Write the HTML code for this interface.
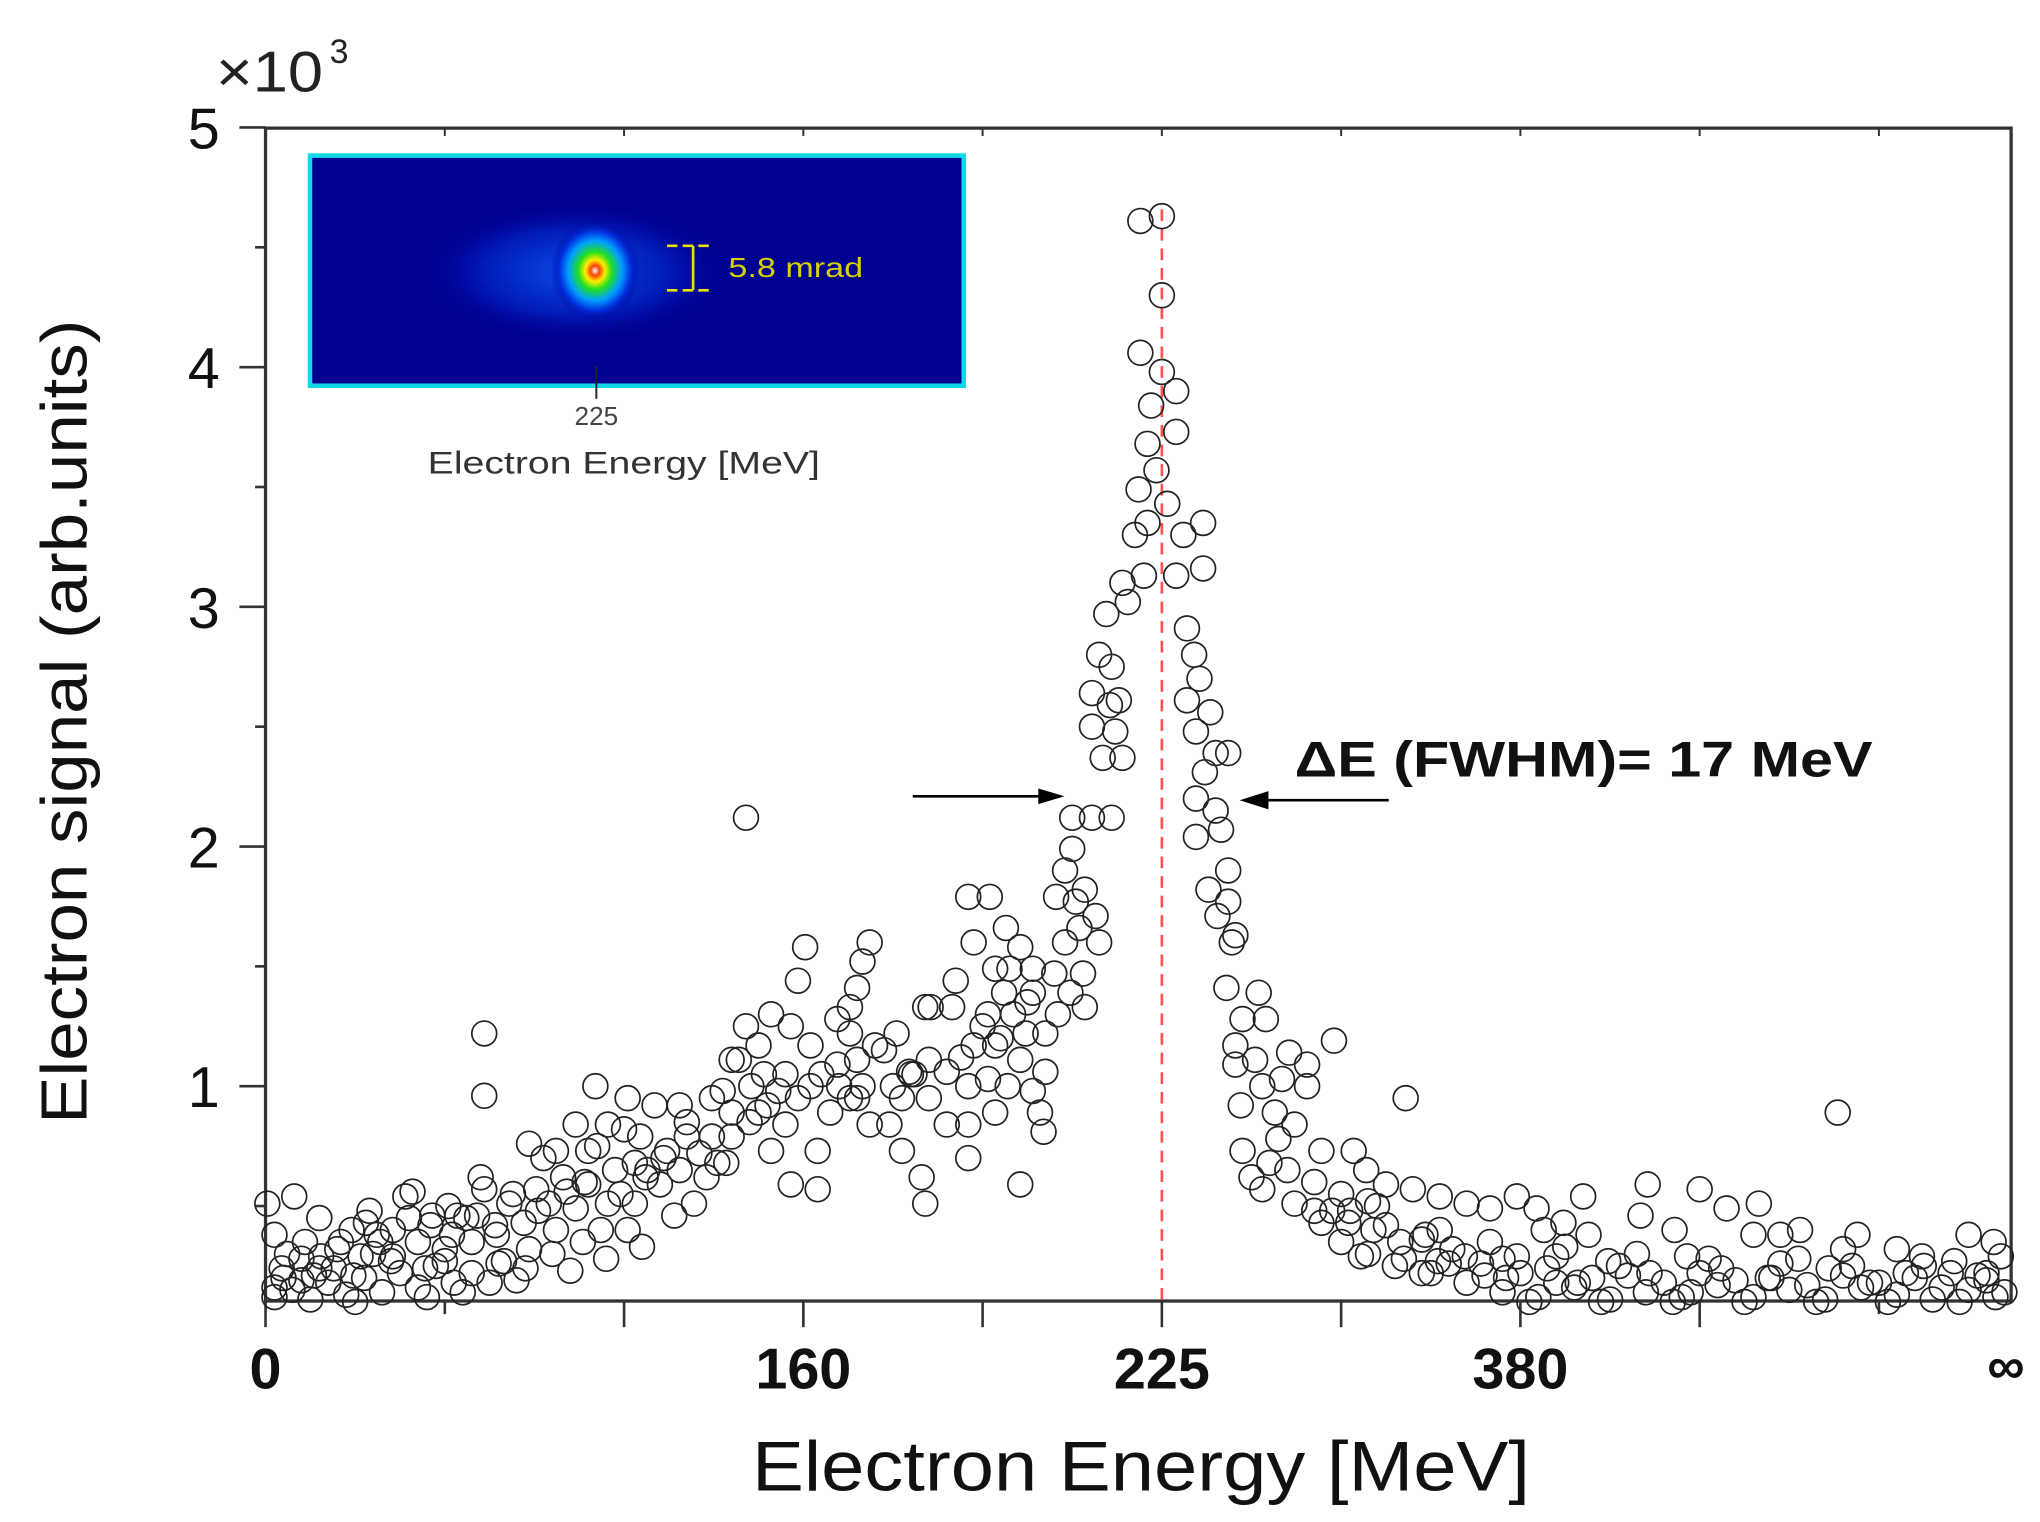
<!DOCTYPE html>
<html><head><meta charset="utf-8">
<style>html,body{margin:0;padding:0;background:#fff}svg{display:block}</style>
</head><body>
<svg id="chart" width="2040" height="1522" viewBox="0 0 1560 1164" xmlns="http://www.w3.org/2000/svg" font-family="'Liberation Sans', sans-serif">
<defs>
<radialGradient id="blob" cx="50%" cy="50%" r="50%">
<stop offset="0" stop-color="#ffffff"/><stop offset="0.1" stop-color="#ff4000"/><stop offset="0.22" stop-color="#ffee00"/><stop offset="0.38" stop-color="#20e020"/><stop offset="0.6" stop-color="#00a0ff"/><stop offset="0.8" stop-color="#0030e0"/><stop offset="1" stop-color="#00008f" stop-opacity="0"/>
</radialGradient>
<radialGradient id="halo" cx="50%" cy="50%" r="50%">
<stop offset="0" stop-color="#1060ff"/><stop offset="0.6" stop-color="#0020c0"/><stop offset="1" stop-color="#000090" stop-opacity="0"/>
</radialGradient>
</defs>
<g id="axes"></g>
<g id="marks"></g>
<g id="inset">
<rect x="237" y="119" width="500" height="176" fill="#000090" stroke="#10d8e8" stroke-width="3.5"/>
<ellipse cx="440" cy="208" rx="120" ry="55" fill="url(#halo)" opacity="0.8"/>
<ellipse cx="455" cy="207" rx="34" ry="38" fill="url(#blob)"/>
<g stroke="#e8e000" stroke-width="2" fill="none">
<line x1="530" y1="188" x2="530" y2="222"/><line x1="510" y1="188" x2="545" y2="188" stroke-dasharray="8 4"/><line x1="510" y1="222" x2="545" y2="222" stroke-dasharray="8 4"/>
</g>
<text x="557" y="212" font-size="21" fill="#d8d000" textLength="103" lengthAdjust="spacingAndGlyphs">5.8 mrad</text>
<line x1="456" y1="280" x2="456" y2="305" stroke="#222" stroke-width="1.5"/>
<text x="456" y="325" font-size="20" fill="#444" text-anchor="middle">225</text>
<text x="327" y="362" font-size="24" fill="#333" textLength="300" lengthAdjust="spacingAndGlyphs">Electron Energy [MeV]</text>
</g>
<g id="annot">
<line x1="698" y1="609" x2="800" y2="609" stroke="#000" stroke-width="2"/>
<polygon points="814,609 794,603 794,615" fill="#000"/>
<line x1="1062" y1="612" x2="962" y2="612" stroke="#000" stroke-width="2"/>
<polygon points="948,612 970,605 970,619" fill="#000"/>
<text x="990" y="594" font-size="38" font-weight="bold" fill="#111" textLength="442" lengthAdjust="spacingAndGlyphs">ΔE (FWHM)= 17 MeV</text>
</g>
</svg>
<script>
// Energy axis is nonlinear: data x stored in axis-tick units (0..9.74), signal in ×10^3 arb. units
const xTickPos = [0,1,2,3,4,5,6,7,8,9];
const xTickLabels = ["0","","","160","","225","","380","",""];
const yTicks = [1,2,3,4,5];
const yTickLabels = ["1","2","3","4","5"];
const peakX = 5.0;
const peakXs = [4.88,5.00,5.0,4.88,5.0,5.08,4.94,5.08,4.92,4.97,4.87,5.03,4.92,5.12,4.85,5.08,4.9,4.78,4.81,4.69,5.23,5.23];
const peakYs = [4.61,4.63,4.30,4.06,3.98,3.90,3.84,3.73,3.68,3.57,3.49,3.43,3.35,3.30,3.30,3.13,3.13,3.10,3.02,2.97,3.35,3.16];
const rightXs = [5.14,5.18,5.21,5.14,5.27,5.19,5.30,5.24,5.37,5.19,5.30,5.33,5.19,5.37,5.26,5.37,5.31,5.41,5.39,5.36,5.54,5.45,5.58,5.41,5.52,5.71,5.41,5.44,5.56,5.67,5.81,5.96,5.81,5.63,5.74,5.45,5.6,5.7,5.89,6.07,6.14,6.25,6.36,6.4,6.55,6.7,5.56,5.74,5.89,6.04,6.18,6.11,6.33,6.47,6.54,6.69,6.83,6.83,6.98,7.09,7.13,6.98,7.2,7.35,7.24,7.38,7.49,7.71,7.67,7.86,7.93,8.0,8.15,8.33,8.3,8.45,8.56,8.77,8.8,8.88,9.1,9.24,9.5,9.64,9.68,9.42,5.5,5.65,5.85,6.0,5.95,6.2];
const rightYs = [2.91,2.80,2.70,2.61,2.56,2.48,2.39,2.31,2.39,2.20,2.15,2.07,2.04,1.90,1.82,1.77,1.71,1.63,1.60,1.41,1.39,1.28,1.28,1.17,1.11,1.14,1.09,0.92,1.00,1.03,1.00,1.19,1.09,0.89,0.84,0.73,0.68,0.65,0.73,0.73,0.65,0.59,0.95,0.57,0.54,0.51,0.57,0.51,0.43,0.43,0.40,0.29,0.35,0.38,0.27,0.29,0.49,0.35,0.54,0.49,0.40,0.29,0.29,0.54,0.43,0.38,0.27,0.59,0.46,0.40,0.29,0.57,0.49,0.51,0.38,0.38,0.40,0.89,0.32,0.38,0.32,0.29,0.38,0.35,0.29,0.27,0.62,0.78,0.60,0.55,0.48,0.50];
const leftXs = [4.72,4.65,4.61,4.71,4.76,4.61,4.74,4.67,4.78,4.72,4.61,4.5,4.5,4.46,4.41,4.57,4.52,4.63,4.54,4.65,4.46,4.56,4.49,4.57,4.4,4.28,4.35,4.42,4.24,4.13,4.21,4.28,4.15,4.07,4.12,4.03,4.17,3.95,4.07,4.21,4.35,4.28,4.32,4.34,4.21,4.14,4.03,3.92,4.07,3.92,3.92,3.8,3.7,3.8,3.7,3.59,3.71,3.85,3.83,3.92,4.04,3.95,3.68,3.55,3.48,3.55,3.66,3.68,3.52,3.4,3.33,3.37,3.26,3.19,3.15,3.30,3.26,3.37,3.33,3.30,3.26,3.19,3.04,3.04,2.97,3.01,2.97,2.93,2.82,2.75,2.71,2.86,2.9,3.08,3.08,2.93,2.82,2.68,2.68,2.64,2.75,2.60,2.60,2.49,2.49,2.57,2.46,2.39,2.31,2.35,2.31,2.24,2.20,2.28,2.17,2.09,2.13,2.06,2.02,1.95,1.91,1.87,1.84,2.02,2.06,1.80,1.73,1.77,1.66,1.58,1.62,1.51,1.44,1.47,1.36,1.29,1.33,1.22,1.22,1.22,1.18,1.15,1.07,1.04,1.00,0.93,0.85,0.89,0.78,0.71,0.71,0.64,0.56,0.53,0.49,0.42,0.38,0.31,0.27,0.16,0.05,0.01,0.09,0.20,0.05,1.47,1.62,1.8,1.91,1.73,2.6,3.45,3.6,3.2,2.9];
const leftYs = [2.75,2.80,2.64,2.59,2.61,2.50,2.48,2.37,2.37,2.12,2.12,2.12,1.99,1.90,1.79,1.82,1.77,1.71,1.66,1.60,1.60,1.47,1.39,1.33,1.47,1.39,1.22,1.30,1.22,1.66,1.58,1.49,1.49,1.49,1.39,1.30,1.30,1.17,1.17,1.11,1.06,0.98,0.89,0.81,0.59,1.00,1.03,1.00,0.89,0.84,0.70,0.84,0.95,1.06,1.11,1.06,1.33,1.44,1.33,1.79,1.79,1.60,1.33,0.95,0.84,0.73,0.62,0.51,1.22,1.17,1.00,0.84,0.95,1.09,0.89,1.11,1.22,1.60,1.52,1.41,1.33,1.28,1.17,1.00,0.95,1.58,1.44,1.25,1.30,1.17,1.00,0.98,0.84,0.73,0.57,0.59,0.73,2.12,1.25,1.11,0.89,0.89,0.79,0.95,0.79,0.68,0.62,0.51,0.65,0.79,0.92,0.73,0.59,0.46,0.92,0.79,0.65,0.51,0.40,0.65,0.51,0.40,1.00,0.95,0.68,0.59,0.49,0.35,0.62,0.51,0.40,0.57,0.43,0.32,0.51,0.38,0.27,1.22,0.96,0.57,0.46,0.35,0.46,0.38,0.27,0.46,0.35,0.24,0.54,0.40,0.29,0.35,0.43,0.29,0.21,0.35,0.24,0.29,0.21,0.54,0.38,0.51,0.24,0.19,0.16,0.76,0.73,0.73,0.84,0.84,1.11,1.15,1.05,1.0,1.05];
const floorXs = [0.05,0.15,0.25,0.35,0.45,0.55,0.65,0.75,0.85,0.95,1.05,1.15,1.3,1.45,1.6,0.1,0.3,0.5,0.7,0.9,1.1,1.25,1.4,1.7,0.2,0.6,1.0,1.9,2.1,6.5,6.7,6.9,7.1,7.3,7.5,7.7,7.9,8.1,8.3,8.5,8.7,8.9,9.1,9.3,9.5,9.65,6.6,6.8,7.0,7.2,7.4,7.6,7.8,8.0,8.2,8.4,8.6,8.8,9.0,9.2,9.4,9.6,7.05,7.45,7.85,8.25,8.65,9.05,9.45,6.35];
const floorYs = [0.12,0.15,0.11,0.18,0.13,0.20,0.14,0.22,0.16,0.25,0.18,0.22,0.26,0.24,0.30,0.20,0.24,0.10,0.27,0.12,0.14,0.18,0.19,0.23,0.28,0.30,0.32,0.28,0.33,0.22,0.18,0.14,0.12,0.16,0.11,0.14,0.12,0.17,0.12,0.15,0.11,0.16,0.13,0.11,0.15,0.12,0.26,0.21,0.22,0.18,0.20,0.21,0.18,0.22,0.19,0.20,0.17,0.21,0.18,0.20,0.22,0.19,0.10,0.10,0.10,0.10,0.10,0.10,0.10,0.28];
const extraXs = [0.12,0.22,0.4,0.48,0.62,0.8,0.92,1.02,1.12,1.28,1.38,1.52,1.68,1.78,1.98,2.12,2.22,2.42,2.52,2.7,2.8,0.3,0.58,0.82,1.2,1.55,1.85,2.0,2.35,2.55,2.78,3.1,3.3,3.5,3.62,3.88,4.0,4.1,4.25,6.0,6.15,6.3,6.45,6.62,6.78,6.92,7.15,7.32,7.55,7.72,7.95,8.12,8.38,8.55,8.72,8.95,9.15,9.35,9.55,9.7,6.05,6.25,6.45,6.9,7.25,7.65,8.05,8.45,8.85,9.25,9.6,5.85,6.15,6.55];
const extraYs = [0.30,0.35,0.32,0.40,0.38,0.45,0.42,0.50,0.45,0.42,0.55,0.48,0.56,0.60,0.55,0.62,0.70,0.72,0.68,0.85,0.92,0.45,0.48,0.56,0.62,0.70,0.75,0.82,0.85,0.98,1.05,1.05,0.95,1.0,1.05,1.12,1.25,1.2,1.35,0.35,0.30,0.25,0.22,0.32,0.26,0.20,0.24,0.18,0.25,0.22,0.14,0.24,0.20,0.28,0.24,0.18,0.22,0.16,0.21,0.14,0.48,0.42,0.36,0.28,0.33,0.30,0.28,0.26,0.25,0.25,0.22,0.48,0.52,0.40];

const L=203,R=1538,T=98,B=995,TS=137.1;
const xs=u=>L+u*TS;
const ys=v=>1014-v*183.3;
const NS='http://www.w3.org/2000/svg';
function mk(tag,attrs,parent){const e=document.createElementNS(NS,tag);for(const k in attrs)e.setAttribute(k,attrs[k]);parent.appendChild(e);return e;}
const axes=document.getElementById('axes');
const marks=document.getElementById('marks');

const frame=mk('rect',{x:L,y:T,width:R-L,height:B-T,fill:'none',stroke:'#333','stroke-width':2.5},axes);



for(let v=0.5;v<=5.01;v+=0.5){
  const major=Math.abs(v-Math.round(v))<0.01;
  const t=mk('line',{x1:L-(major?20:8),x2:L,y1:ys(v),y2:ys(v),stroke:'#333','stroke-width':2},axes);
  
  
}
yTicks.forEach((v,i)=>{
  const t=mk('text',{x:168,y:ys(v)+16,'font-size':44,'text-anchor':'end',fill:'#111'},axes);
  t.textContent=yTickLabels[i];
  
  
});
const mult=mk('text',{x:165,y:70,'font-size':44,fill:'#222',textLength:82,lengthAdjust:'spacingAndGlyphs'},axes);
mult.textContent='×10';


const sup=mk('text',{x:252,y:48,'font-size':26,fill:'#222'},axes);
sup.textContent='3';


const yt=mk('text',{x:0,y:0,'font-size':50,'text-anchor':'middle',fill:'#111',textLength:615,lengthAdjust:'spacingAndGlyphs',transform:'translate(66,552) rotate(-90)'},axes);
yt.textContent='Electron signal (arb.units)';



xTickPos.forEach((u,i)=>{
  const shortT=(i===1||i===9);
  const t=mk('line',{x1:xs(u),x2:xs(u),y1:B,y2:B+(shortT?10:20),stroke:'#333','stroke-width':2},axes);
  
  
  const tt=mk('line',{x1:xs(u),x2:xs(u),y1:T,y2:T+6,stroke:'#333','stroke-width':1.5},axes);
  
  
  if(xTickLabels[i]){
    const l=mk('text',{x:xs(u),y:1062,'font-size':44,'font-weight':'bold','text-anchor':'middle',fill:'#111'},axes);
    l.textContent=xTickLabels[i];
    
    
  }
});
const inf=mk('text',{x:1534,y:1058,'font-size':40,'font-weight':'bold','text-anchor':'middle',fill:'#111'},axes);
inf.textContent='∞';


const xt=mk('text',{x:575,y:1140,'font-size':54,fill:'#111',textLength:595,lengthAdjust:'spacingAndGlyphs'},axes);
xt.textContent='Electron Energy [MeV]';



const pl=mk('line',{x1:xs(peakX),x2:xs(peakX),y1:160,y2:B+5,stroke:'#ff5050','stroke-width':2,'stroke-dasharray':'9 6'},marks);



function drawSeries(X,Y,name){
  for(let i=0;i<X.length;i++){
    const c=mk('circle',{cx:xs(X[i]),cy:ys(Y[i]),r:9.5,fill:'none',stroke:'#222','stroke-width':1.3},marks);
    
    
  }
}
drawSeries(floorXs,floorYs,'data-point-floor');
drawSeries(extraXs,extraYs,'data-point-background');
drawSeries(leftXs,leftYs,'data-point-rising');
drawSeries(rightXs,rightYs,'data-point-falling');
drawSeries(peakXs,peakYs,'data-point-peak');
</script>
</body></html>
